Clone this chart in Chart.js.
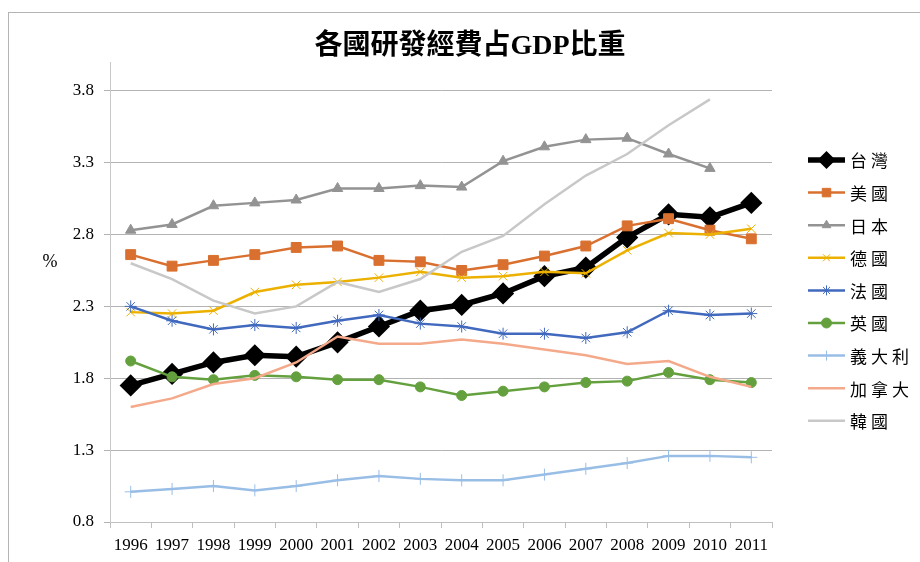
<!DOCTYPE html>
<html lang="zh-Hant">
<head>
<meta charset="UTF-8">
<title>各國研發經費占GDP比重</title>
<style>
    body {
        margin: 0;
        background-color: white;
        overflow: hidden;
    }
    .frame {
        position: absolute;
        left: 8px;
        top: 12px;
        width: 1000px;
        height: 700px;
        border-left: 1px solid #b4b4b4;
        border-top: 1px solid #b4b4b4;
    }
    .chart-box {
        position: absolute;
        left: 0;
        top: 0;
        width: 920px;
        height: 562px;
    }
</style>
<script src="https://cdn.jsdelivr.net/npm/chart.js@4"></script>
</head>
<body>
<div class="frame"></div>
<div class="chart-box"><canvas id="rdChart"></canvas></div>

<script>
    const chartTitle = '各國研發經費占GDP比重';
    const unitLabel = '%';
    const years = ['1996', '1997', '1998', '1999', '2000', '2001', '2002', '2003',
                   '2004', '2005', '2006', '2007', '2008', '2009', '2010', '2011'];
    const yTicks = [0.8, 1.3, 1.8, 2.3, 2.8, 3.3, 3.8];

    // 各國研發經費占GDP比重 (%)
    const taiwan  = [1.75, 1.83, 1.91, 1.96, 1.95, 2.05, 2.16, 2.27, 2.31, 2.39, 2.51, 2.57, 2.78, 2.94, 2.92, 3.02];
    const usa     = [2.66, 2.58, 2.62, 2.66, 2.71, 2.72, 2.62, 2.61, 2.55, 2.59, 2.65, 2.72, 2.86, 2.91, 2.83, 2.77];
    const japan   = [2.83, 2.87, 3.00, 3.02, 3.04, 3.12, 3.12, 3.14, 3.13, 3.31, 3.41, 3.46, 3.47, 3.36, 3.26, null];
    const germany = [2.26, 2.25, 2.27, 2.40, 2.45, 2.47, 2.50, 2.54, 2.50, 2.51, 2.54, 2.53, 2.69, 2.81, 2.80, 2.84];
    const france  = [2.30, 2.20, 2.14, 2.17, 2.15, 2.20, 2.24, 2.18, 2.16, 2.11, 2.11, 2.08, 2.12, 2.27, 2.24, 2.25];
    const uk      = [1.92, 1.81, 1.79, 1.82, 1.81, 1.79, 1.79, 1.74, 1.68, 1.71, 1.74, 1.77, 1.78, 1.84, 1.79, 1.77];
    const italy   = [1.01, 1.03, 1.05, 1.02, 1.05, 1.09, 1.12, 1.10, 1.09, 1.09, 1.13, 1.17, 1.21, 1.26, 1.26, 1.25];
    const canada  = [1.60, 1.66, 1.76, 1.80, 1.91, 2.09, 2.04, 2.04, 2.07, 2.04, 2.00, 1.96, 1.90, 1.92, 1.81, 1.74];
    const korea   = [2.60, 2.49, 2.34, 2.25, 2.30, 2.47, 2.40, 2.49, 2.68, 2.79, 3.01, 3.21, 3.36, 3.56, 3.74, null];

    const series = [
        { label: '台灣',   data: taiwan,  color: '#000000', width: 5.5, point: 'rectRot',  radius: 9, pw: 3, legendRadius: 7 },
        { label: '美國',   data: usa,     color: '#D9702F', width: 2.5, point: 'rect',     radius: 7, pw: 1, legendRadius: 6 },
        { label: '日本',   data: japan,   color: '#939393', width: 2.5, point: 'triangle', radius: 6, pw: 1, legendRadius: 5 },
        { label: '德國',   data: germany, color: '#ECB100', width: 2.5, point: 'crossRot', radius: 6, pw: 1, legendRadius: 5 },
        { label: '法國',   data: france,  color: '#4169BE', width: 2.5, point: 'star',     radius: 6, pw: 1, legendRadius: 5 },
        { label: '英國',   data: uk,      color: '#64A13E', width: 2.5, point: 'circle',   radius: 5, pw: 1, legendRadius: 5 },
        { label: '義大利', data: italy,   color: '#99BEE6', width: 2.5, point: 'cross',    radius: 6, pw: 1, legendRadius: 5 },
        { label: '加拿大', data: canada,  color: '#F4A98A', width: 2.5, point: 'circle',   radius: 0, pw: 0, legendRadius: 0 },
        { label: '韓國',   data: korea,   color: '#C8C8C8', width: 2.5, point: 'circle',   radius: 0, pw: 0, legendRadius: 0 }
    ];

    // 標題、單位與圖例 (Excel 風格: 線 + 標記)
    const decorPlugin = {
        id: 'decor',
        afterDraw(chart) {
            const ctx = chart.ctx;
            ctx.save();
            ctx.fillStyle = '#000';
            ctx.textAlign = 'center';
            ctx.textBaseline = 'middle';
            ctx.font = 'bold 28px "Liberation Serif", "Noto Sans CJK TC"';
            ctx.fillText(chartTitle, 470, 47);

            ctx.font = '18px "Liberation Serif", "Noto Sans CJK TC"';
            ctx.fillText(unitLabel, 50, 262);

            ctx.textAlign = 'left';
            ctx.font = '17px "Noto Sans CJK TC"';
            series.forEach((s, i) => {
                const y = 160 + i * 32.6;
                ctx.strokeStyle = s.color;
                ctx.lineWidth = s.width;
                ctx.beginPath();
                ctx.moveTo(808, y);
                ctx.lineTo(845, y);
                ctx.stroke();
                if (s.legendRadius > 0) {
                    ctx.fillStyle = s.color;
                    ctx.lineWidth = s.pw;
                    Chart.helpers.drawPoint(ctx, {
                        pointStyle: s.point,
                        radius: s.legendRadius,
                        borderWidth: s.pw,
                        rotation: 0
                    }, 826.5, y);
                }
                ctx.fillStyle = '#000';
                [...s.label].forEach((ch, k) => ctx.fillText(ch, 850 + k * 21, y + 1));
            });
            ctx.restore();
        }
    };

    const ctx = document.getElementById('rdChart').getContext('2d');
    new Chart(ctx, {
        type: 'line',
        data: {
            labels: years,
            datasets: series.map((s, i) => ({
                label: s.label,
                data: s.data,
                borderColor: s.color,
                backgroundColor: s.color,
                borderWidth: s.width,
                pointStyle: s.point,
                pointRadius: s.radius,
                pointBorderWidth: s.pw,
                pointBorderColor: s.color,
                pointBackgroundColor: s.color,
                tension: 0,
                fill: false,
                order: series.length - i
            }))
        },
        options: {
            responsive: true,
            maintainAspectRatio: false,
            animation: false,
            layout: {
                padding: { top: 62, right: 148, bottom: 0, left: 0 }
            },
            plugins: {
                legend: { display: false },
                title: { display: false },
                tooltip: { enabled: false }
            },
            scales: {
                x: {
                    offset: true,
                    grid: {
                        offset: true,
                        drawOnChartArea: false,
                        drawTicks: true,
                        tickLength: 6,
                        color: '#bfbfbf'
                    },
                    border: { color: '#bfbfbf' },
                    ticks: {
                        autoSkip: false,
                        maxRotation: 0,
                        padding: 7,
                        color: '#000',
                        font: { family: '"Liberation Serif"', size: 17 }
                    },
                    afterFit(scale) { scale.height = 40; }
                },
                y: {
                    min: 0.8,
                    max: 4.0,
                    afterBuildTicks(scale) {
                        scale.ticks = yTicks.map(v => ({ value: v }));
                    },
                    grid: {
                        color: '#b3b3b3',
                        tickLength: 6
                    },
                    border: { color: '#c8c8c8' },
                    ticks: {
                        padding: 10,
                        color: '#000',
                        font: { family: '"Liberation Serif"', size: 17 },
                        callback: v => v.toFixed(1)
                    },
                    afterFit(scale) { scale.width = 110; }
                }
            }
        },
        plugins: [decorPlugin]
    });
</script>
</body>
</html>
